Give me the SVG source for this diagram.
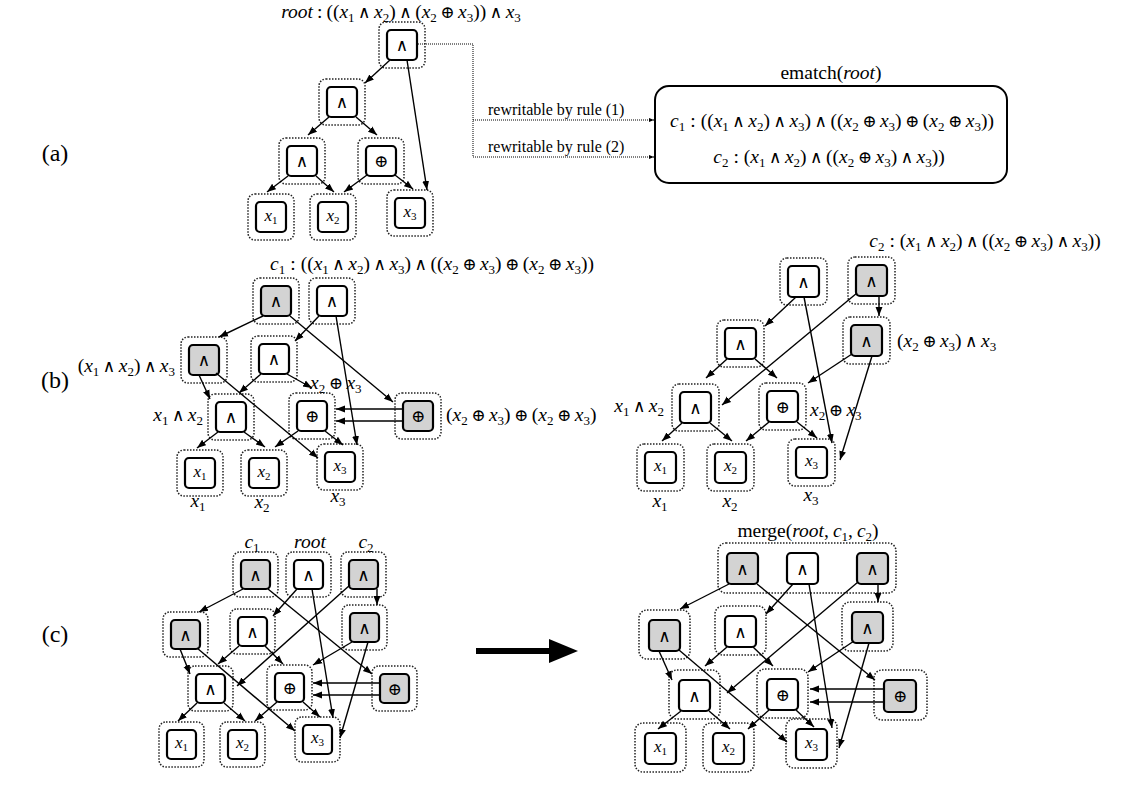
<svg xmlns="http://www.w3.org/2000/svg" width="1138" height="788" viewBox="0 0 1138 788">
<style>
.o{fill:none;stroke:#222;stroke-width:1.5;stroke-dasharray:1.5 1.5}
.b{fill:#fff;stroke:#000;stroke-width:2.2}
.gr{fill:#d3d3d3}
.n{font-family:"DejaVu Serif",serif;font-size:17px;text-anchor:middle}
.v{font-family:"Liberation Serif",serif;font-size:17px;font-style:italic;text-anchor:middle}
.ss{font-size:11px;font-style:normal}
.t{font-family:"Liberation Serif","DejaVu Serif",serif;font-size:19.5px}
.i{font-style:italic}
.s{font-size:13px;font-style:normal}
.op{font-family:"DejaVu Serif",serif;font-size:17px}
.pl{font-family:"Liberation Serif",serif;font-size:24px;text-anchor:middle}
.rw{font-family:"Liberation Serif",serif;font-size:16px}
.e{fill:none;stroke:#000;stroke-width:1.4;marker-end:url(#ah)}
.d{fill:none;stroke:#000;stroke-width:1;stroke-dasharray:1 1}
.da{marker-end:url(#sa)}
</style>
<defs>
<marker id="ah" viewBox="0 0 10 10" refX="10" refY="5" markerWidth="9" markerHeight="9" markerUnits="userSpaceOnUse" orient="auto"><path d="M0,1.2 L10,5 L0,8.8 z" fill="#000"/></marker>
<marker id="sa" viewBox="0 0 10 10" refX="10" refY="5" markerWidth="5" markerHeight="5" markerUnits="userSpaceOnUse" orient="auto"><path d="M0,1 L10,5 L0,9 z" fill="#000"/></marker>
</defs>

<g id="labels">
<text class="pl" x="55" y="161">(a)</text>
<text class="pl" x="55" y="388">(b)</text>
<text class="pl" x="55" y="642">(c)</text>
<text class="t" x="401" y="18" text-anchor="middle"><tspan class="i">root</tspan><tspan dx="4">:</tspan><tspan dx="4">((</tspan><tspan class="i">x</tspan><tspan class="s" dy="4">1</tspan><tspan class="op" dx="3.5" dy="-4">∧</tspan><tspan class="i" dx="3.5">x</tspan><tspan class="s" dy="4">2</tspan><tspan dy="-4">)</tspan><tspan class="op" dx="3.5">∧</tspan><tspan dx="3.5">(</tspan><tspan class="i">x</tspan><tspan class="s" dy="4">2</tspan><tspan class="op" dx="3.5" dy="-4">⊕</tspan><tspan class="i" dx="3.5">x</tspan><tspan class="s" dy="4">3</tspan><tspan dy="-4">))</tspan><tspan class="op" dx="3.5">∧</tspan><tspan class="i" dx="3.5">x</tspan><tspan class="s" dy="4">3</tspan></text>
<text class="t" x="831" y="79" text-anchor="middle" font-size="19">ematch(<tspan class="i">root</tspan>)</text>
<text class="rw" x="488" y="115">rewritable by rule (1)</text>
<text class="rw" x="488" y="152">rewritable by rule (2)</text>
<text class="t" x="832" y="127" text-anchor="middle"><tspan class="i">c</tspan><tspan class="s" dy="4">1</tspan><tspan dx="5" dy="-4">:</tspan><tspan dx="5">((</tspan><tspan class="i">x</tspan><tspan class="s" dy="4">1</tspan><tspan class="op" dx="3.5" dy="-4">∧</tspan><tspan class="i" dx="3.5">x</tspan><tspan class="s" dy="4">2</tspan><tspan dy="-4">)</tspan><tspan class="op" dx="3.5">∧</tspan><tspan class="i" dx="3.5">x</tspan><tspan class="s" dy="4">3</tspan><tspan dy="-4">)</tspan><tspan class="op" dx="3.5">∧</tspan><tspan dx="3.5">((</tspan><tspan class="i">x</tspan><tspan class="s" dy="4">2</tspan><tspan class="op" dx="3.5" dy="-4">⊕</tspan><tspan class="i" dx="3.5">x</tspan><tspan class="s" dy="4">3</tspan><tspan dy="-4">)</tspan><tspan class="op" dx="3.5">⊕</tspan><tspan dx="3.5">(</tspan><tspan class="i">x</tspan><tspan class="s" dy="4">2</tspan><tspan class="op" dx="3.5" dy="-4">⊕</tspan><tspan class="i" dx="3.5">x</tspan><tspan class="s" dy="4">3</tspan><tspan dy="-4">))</tspan></text>
<text class="t" x="829" y="163" text-anchor="middle"><tspan class="i">c</tspan><tspan class="s" dy="4">2</tspan><tspan dx="5" dy="-4">:</tspan><tspan dx="5">(</tspan><tspan class="i">x</tspan><tspan class="s" dy="4">1</tspan><tspan class="op" dx="3.5" dy="-4">∧</tspan><tspan class="i" dx="3.5">x</tspan><tspan class="s" dy="4">2</tspan><tspan dy="-4">)</tspan><tspan class="op" dx="3.5">∧</tspan><tspan dx="3.5">((</tspan><tspan class="i">x</tspan><tspan class="s" dy="4">2</tspan><tspan class="op" dx="3.5" dy="-4">⊕</tspan><tspan class="i" dx="3.5">x</tspan><tspan class="s" dy="4">3</tspan><tspan dy="-4">)</tspan><tspan class="op" dx="3.5">∧</tspan><tspan class="i" dx="3.5">x</tspan><tspan class="s" dy="4">3</tspan><tspan dy="-4">))</tspan></text>

<text class="t" x="432" y="270" text-anchor="middle"><tspan class="i">c</tspan><tspan class="s" dy="4">1</tspan><tspan dx="5" dy="-4">:</tspan><tspan dx="5">((</tspan><tspan class="i">x</tspan><tspan class="s" dy="4">1</tspan><tspan class="op" dx="3.5" dy="-4">∧</tspan><tspan class="i" dx="3.5">x</tspan><tspan class="s" dy="4">2</tspan><tspan dy="-4">)</tspan><tspan class="op" dx="3.5">∧</tspan><tspan class="i" dx="3.5">x</tspan><tspan class="s" dy="4">3</tspan><tspan dy="-4">)</tspan><tspan class="op" dx="3.5">∧</tspan><tspan dx="3.5">((</tspan><tspan class="i">x</tspan><tspan class="s" dy="4">2</tspan><tspan class="op" dx="3.5" dy="-4">⊕</tspan><tspan class="i" dx="3.5">x</tspan><tspan class="s" dy="4">3</tspan><tspan dy="-4">)</tspan><tspan class="op" dx="3.5">⊕</tspan><tspan dx="3.5">(</tspan><tspan class="i">x</tspan><tspan class="s" dy="4">2</tspan><tspan class="op" dx="3.5" dy="-4">⊕</tspan><tspan class="i" dx="3.5">x</tspan><tspan class="s" dy="4">3</tspan><tspan dy="-4">))</tspan></text>
<text class="t" x="175" y="372" text-anchor="end"><tspan>(</tspan><tspan class="i">x</tspan><tspan class="s" dy="4">1</tspan><tspan class="op" dx="3.5" dy="-4">∧</tspan><tspan class="i" dx="3.5">x</tspan><tspan class="s" dy="4">2</tspan><tspan dy="-4">)</tspan><tspan class="op" dx="3.5">∧</tspan><tspan class="i" dx="3.5">x</tspan><tspan class="s" dy="4">3</tspan></text>
<text class="t" x="203" y="421" text-anchor="end"><tspan class="i">x</tspan><tspan class="s" dy="4">1</tspan><tspan class="op" dx="3.5" dy="-4">∧</tspan><tspan class="i" dx="3.5">x</tspan><tspan class="s" dy="4">2</tspan></text>
<text class="t" x="310" y="389"><tspan class="i">x</tspan><tspan class="s" dy="4">2</tspan><tspan class="op" dx="3.5" dy="-4">⊕</tspan><tspan class="i" dx="3.5">x</tspan><tspan class="s" dy="4">3</tspan></text>
<text class="t" x="446" y="421"><tspan>(</tspan><tspan class="i">x</tspan><tspan class="s" dy="4">2</tspan><tspan class="op" dx="3.5" dy="-4">⊕</tspan><tspan class="i" dx="3.5">x</tspan><tspan class="s" dy="4">3</tspan><tspan dy="-4">)</tspan><tspan class="op" dx="3.5">⊕</tspan><tspan dx="3.5">(</tspan><tspan class="i">x</tspan><tspan class="s" dy="4">2</tspan><tspan class="op" dx="3.5" dy="-4">⊕</tspan><tspan class="i" dx="3.5">x</tspan><tspan class="s" dy="4">3</tspan><tspan dy="-4">)</tspan></text>
<text class="t" x="198" y="507" text-anchor="middle"><tspan class="i">x</tspan><tspan class="s" dy="4">1</tspan></text>
<text class="t" x="262" y="508" text-anchor="middle"><tspan class="i">x</tspan><tspan class="s" dy="4">2</tspan></text>
<text class="t" x="338" y="502" text-anchor="middle"><tspan class="i">x</tspan><tspan class="s" dy="4">3</tspan></text>

<text class="t" x="985" y="247" text-anchor="middle"><tspan class="i">c</tspan><tspan class="s" dy="4">2</tspan><tspan dx="5" dy="-4">:</tspan><tspan dx="5">(</tspan><tspan class="i">x</tspan><tspan class="s" dy="4">1</tspan><tspan class="op" dx="3.5" dy="-4">∧</tspan><tspan class="i" dx="3.5">x</tspan><tspan class="s" dy="4">2</tspan><tspan dy="-4">)</tspan><tspan class="op" dx="3.5">∧</tspan><tspan dx="3.5">((</tspan><tspan class="i">x</tspan><tspan class="s" dy="4">2</tspan><tspan class="op" dx="3.5" dy="-4">⊕</tspan><tspan class="i" dx="3.5">x</tspan><tspan class="s" dy="4">3</tspan><tspan dy="-4">)</tspan><tspan class="op" dx="3.5">∧</tspan><tspan class="i" dx="3.5">x</tspan><tspan class="s" dy="4">3</tspan><tspan dy="-4">))</tspan></text>
<text class="t" x="897" y="347"><tspan>(</tspan><tspan class="i">x</tspan><tspan class="s" dy="4">2</tspan><tspan class="op" dx="3.5" dy="-4">⊕</tspan><tspan class="i" dx="3.5">x</tspan><tspan class="s" dy="4">3</tspan><tspan dy="-4">)</tspan><tspan class="op" dx="3.5">∧</tspan><tspan class="i" dx="3.5">x</tspan><tspan class="s" dy="4">3</tspan></text>
<text class="t" x="664" y="412" text-anchor="end"><tspan class="i">x</tspan><tspan class="s" dy="4">1</tspan><tspan class="op" dx="3.5" dy="-4">∧</tspan><tspan class="i" dx="3.5">x</tspan><tspan class="s" dy="4">2</tspan></text>
<text class="t" x="810" y="416"><tspan class="i">x</tspan><tspan class="s" dy="4">2</tspan><tspan class="op" dx="3.5" dy="-4">⊕</tspan><tspan class="i" dx="3.5">x</tspan><tspan class="s" dy="4">3</tspan></text>
<text class="t" x="660" y="507" text-anchor="middle"><tspan class="i">x</tspan><tspan class="s" dy="4">1</tspan></text>
<text class="t" x="730" y="507" text-anchor="middle"><tspan class="i">x</tspan><tspan class="s" dy="4">2</tspan></text>
<text class="t" x="811" y="501" text-anchor="middle"><tspan class="i">x</tspan><tspan class="s" dy="4">3</tspan></text>

<text class="t" x="252" y="548" text-anchor="middle"><tspan class="i">c</tspan><tspan class="s" dy="4">1</tspan></text>
<text class="t" x="310" y="548" text-anchor="middle"><tspan class="i">root</tspan></text>
<text class="t" x="366" y="548" text-anchor="middle"><tspan class="i">c</tspan><tspan class="s" dy="4">2</tspan></text>
<text class="t" x="808" y="537" text-anchor="middle" font-size="22">merge(<tspan class="i">root</tspan>,<tspan dx="4" class="i">c</tspan><tspan class="s" dy="4">1</tspan><tspan dy="-4">,</tspan><tspan dx="4" class="i">c</tspan><tspan class="s" dy="4">2</tspan><tspan dy="-4">)</tspan></text>
</g>

<g id="a-root"><rect class="o" x="379" y="22" width="46" height="46" rx="7"/><rect class="b" x="387" y="30" width="30" height="30" rx="4"/><text class="n" x="402" y="51">∧</text></g>
<g id="a-and2"><rect class="o" x="319" y="79" width="46" height="46" rx="7"/><rect class="b" x="327" y="87" width="30" height="30" rx="4"/><text class="n" x="342" y="108">∧</text></g>
<g id="a-and3"><rect class="o" x="279" y="138" width="46" height="46" rx="7"/><rect class="b" x="287" y="146" width="30" height="30" rx="4"/><text class="n" x="302" y="167">∧</text></g>
<g id="a-xor"><rect class="o" x="358" y="138" width="46" height="46" rx="7"/><rect class="b" x="366" y="146" width="30" height="30" rx="4"/><text class="n" x="381" y="167">⊕</text></g>
<g id="a-x1"><rect class="o" x="248" y="194" width="46" height="46" rx="7"/><rect class="b" x="256" y="202" width="30" height="30" rx="4"/><text class="v" x="271" y="221">x<tspan class="ss" dy="3">1</tspan></text></g>
<g id="a-x2"><rect class="o" x="310" y="194" width="46" height="46" rx="7"/><rect class="b" x="318" y="202" width="30" height="30" rx="4"/><text class="v" x="333" y="221">x<tspan class="ss" dy="3">2</tspan></text></g>
<g id="a-x3"><rect class="o" x="387" y="190" width="46" height="46" rx="7"/><rect class="b" x="395" y="198" width="30" height="30" rx="4"/><text class="v" x="410" y="217">x<tspan class="ss" dy="3">3</tspan></text></g>
<g id="a-ematch"><rect x="655" y="86" width="352" height="97" rx="14" fill="none" stroke="#000" stroke-width="2"/></g>

<g id="b1-c1"><rect class="o" x="253" y="278" width="46" height="46" rx="7"/><rect class="b gr" x="261" y="286" width="30" height="30" rx="4"/><text class="n" x="276" y="307">∧</text></g>
<g id="b1-root"><rect class="o" x="309" y="278" width="46" height="46" rx="7"/><rect class="b" x="317" y="286" width="30" height="30" rx="4"/><text class="n" x="332" y="307">∧</text></g>
<g id="b1-and12x3"><rect class="o" x="181" y="337" width="46" height="46" rx="7"/><rect class="b gr" x="189" y="345" width="30" height="30" rx="4"/><text class="n" x="204" y="366">∧</text></g>
<g id="b1-and"><rect class="o" x="251" y="336" width="46" height="46" rx="7"/><rect class="b" x="259" y="344" width="30" height="30" rx="4"/><text class="n" x="274" y="365">∧</text></g>
<g id="b1-and12"><rect class="o" x="208" y="394" width="46" height="46" rx="7"/><rect class="b" x="216" y="402" width="30" height="30" rx="4"/><text class="n" x="231" y="423">∧</text></g>
<g id="b1-xor"><rect class="o" x="289" y="393" width="46" height="46" rx="7"/><rect class="b" x="297" y="401" width="30" height="30" rx="4"/><text class="n" x="312" y="422">⊕</text></g>
<g id="b1-xor2"><rect class="o" x="395" y="393" width="46" height="46" rx="7"/><rect class="b gr" x="403" y="401" width="30" height="30" rx="4"/><text class="n" x="418" y="422">⊕</text></g>
<g id="b1-x1"><rect class="o" x="177" y="450" width="46" height="46" rx="7"/><rect class="b" x="185" y="458" width="30" height="30" rx="4"/><text class="v" x="200" y="477">x<tspan class="ss" dy="3">1</tspan></text></g>
<g id="b1-x2"><rect class="o" x="241" y="450" width="46" height="46" rx="7"/><rect class="b" x="249" y="458" width="30" height="30" rx="4"/><text class="v" x="264" y="477">x<tspan class="ss" dy="3">2</tspan></text></g>
<g id="b1-x3"><rect class="o" x="317" y="444" width="46" height="46" rx="7"/><rect class="b" x="325" y="452" width="30" height="30" rx="4"/><text class="v" x="340" y="471">x<tspan class="ss" dy="3">3</tspan></text></g>

<g id="b2-root"><rect class="o" x="780" y="258" width="47" height="47" rx="7"/><rect class="b" x="788" y="266" width="31" height="31" rx="4"/><text class="n" x="803.5" y="288">∧</text></g>
<g id="b2-c2"><rect class="o" x="848" y="257" width="47" height="47" rx="7"/><rect class="b gr" x="856" y="265" width="31" height="31" rx="4"/><text class="n" x="871.5" y="287">∧</text></g>
<g id="b2-andx3"><rect class="o" x="843" y="317" width="47" height="47" rx="7"/><rect class="b gr" x="851" y="325" width="31" height="31" rx="4"/><text class="n" x="866.5" y="347">∧</text></g>
<g id="b2-and"><rect class="o" x="717" y="320" width="47" height="47" rx="7"/><rect class="b" x="725" y="328" width="31" height="31" rx="4"/><text class="n" x="740.5" y="350">∧</text></g>
<g id="b2-and12"><rect class="o" x="672" y="384" width="47" height="47" rx="7"/><rect class="b" x="680" y="392" width="31" height="31" rx="4"/><text class="n" x="695.5" y="414">∧</text></g>
<g id="b2-xor"><rect class="o" x="759" y="383" width="47" height="47" rx="7"/><rect class="b" x="767" y="391" width="31" height="31" rx="4"/><text class="n" x="782.5" y="413">⊕</text></g>
<g id="b2-x1"><rect class="o" x="637" y="444" width="47" height="47" rx="7"/><rect class="b" x="645" y="452" width="31" height="31" rx="4"/><text class="v" x="660.5" y="471">x<tspan class="ss" dy="3">1</tspan></text></g>
<g id="b2-x2"><rect class="o" x="707" y="444" width="47" height="47" rx="7"/><rect class="b" x="715" y="452" width="31" height="31" rx="4"/><text class="v" x="730.5" y="471">x<tspan class="ss" dy="3">2</tspan></text></g>
<g id="b2-x3"><rect class="o" x="788" y="439" width="47" height="47" rx="7"/><rect class="b" x="796" y="447" width="31" height="31" rx="4"/><text class="v" x="811.5" y="466">x<tspan class="ss" dy="3">3</tspan></text></g>

<g id="c1-c1"><rect class="o" x="233" y="552" width="45" height="45" rx="7"/><rect class="b gr" x="241" y="560" width="29" height="29" rx="4"/><text class="n" x="255.5" y="581">∧</text></g>
<g id="c1-root"><rect class="o" x="286" y="552" width="45" height="45" rx="7"/><rect class="b" x="294" y="560" width="29" height="29" rx="4"/><text class="n" x="308.5" y="581">∧</text></g>
<g id="c1-c2"><rect class="o" x="341" y="552" width="45" height="45" rx="7"/><rect class="b gr" x="349" y="560" width="29" height="29" rx="4"/><text class="n" x="363.5" y="581">∧</text></g>
<g id="c1-andl"><rect class="o" x="163" y="612" width="45" height="45" rx="7"/><rect class="b gr" x="171" y="620" width="29" height="29" rx="4"/><text class="n" x="185.5" y="641">∧</text></g>
<g id="c1-and"><rect class="o" x="230" y="609" width="45" height="45" rx="7"/><rect class="b" x="238" y="617" width="29" height="29" rx="4"/><text class="n" x="252.5" y="638">∧</text></g>
<g id="c1-andr"><rect class="o" x="342" y="605" width="45" height="45" rx="7"/><rect class="b gr" x="350" y="613" width="29" height="29" rx="4"/><text class="n" x="364.5" y="634">∧</text></g>
<g id="c1-and12"><rect class="o" x="188" y="666" width="45" height="45" rx="7"/><rect class="b" x="196" y="674" width="29" height="29" rx="4"/><text class="n" x="210.5" y="695">∧</text></g>
<g id="c1-xor"><rect class="o" x="267" y="665" width="45" height="45" rx="7"/><rect class="b" x="275" y="673" width="29" height="29" rx="4"/><text class="n" x="289.5" y="694">⊕</text></g>
<g id="c1-xor2"><rect class="o" x="372" y="666" width="45" height="45" rx="7"/><rect class="b gr" x="380" y="674" width="29" height="29" rx="4"/><text class="n" x="394.5" y="695">⊕</text></g>
<g id="c1-x1"><rect class="o" x="159" y="722" width="45" height="45" rx="7"/><rect class="b" x="167" y="730" width="29" height="29" rx="4"/><text class="v" x="181.5" y="748">x<tspan class="ss" dy="3">1</tspan></text></g>
<g id="c1-x2"><rect class="o" x="220" y="722" width="45" height="45" rx="7"/><rect class="b" x="228" y="730" width="29" height="29" rx="4"/><text class="v" x="242.5" y="748">x<tspan class="ss" dy="3">2</tspan></text></g>
<g id="c1-x3"><rect class="o" x="295" y="717" width="45" height="45" rx="7"/><rect class="b" x="303" y="725" width="29" height="29" rx="4"/><text class="v" x="317.5" y="743">x<tspan class="ss" dy="3">3</tspan></text></g>

<g id="c2-merged"><rect class="o" x="718" y="543" width="178" height="50" rx="8"/><rect class="b gr" x="727" y="553" width="31" height="31" rx="4"/><text class="n" x="742.5" y="575">∧</text><rect class="b" x="787" y="553" width="31" height="31" rx="4"/><text class="n" x="802.5" y="575">∧</text><rect class="b gr" x="857" y="553" width="31" height="31" rx="4"/><text class="n" x="872.5" y="575">∧</text></g>
<g id="c2-andl"><rect class="o" x="639" y="610" width="51" height="49" rx="8"/><rect class="b gr" x="649" y="620" width="31" height="31" rx="4"/><text class="n" x="664.5" y="642">∧</text></g>
<g id="c2-and"><rect class="o" x="715" y="606" width="51" height="49" rx="8"/><rect class="b" x="725" y="616" width="31" height="31" rx="4"/><text class="n" x="740.5" y="638">∧</text></g>
<g id="c2-andr"><rect class="o" x="842" y="602" width="51" height="49" rx="8"/><rect class="b gr" x="852" y="612" width="31" height="31" rx="4"/><text class="n" x="867.5" y="634">∧</text></g>
<g id="c2-and12"><rect class="o" x="669" y="670" width="51" height="49" rx="8"/><rect class="b" x="679" y="680" width="31" height="31" rx="4"/><text class="n" x="694.5" y="702">∧</text></g>
<g id="c2-xor"><rect class="o" x="757" y="669" width="51" height="49" rx="8"/><rect class="b" x="767" y="679" width="31" height="31" rx="4"/><text class="n" x="782.5" y="701">⊕</text></g>
<g id="c2-xor2"><rect class="o" x="874" y="670" width="53" height="50" rx="8"/><rect class="b gr" x="884" y="680" width="32" height="32" rx="4"/><text class="n" x="900" y="702">⊕</text></g>
<g id="c2-x1"><rect class="o" x="635" y="723" width="51" height="49" rx="8"/><rect class="b" x="645" y="733" width="31" height="31" rx="4"/><text class="v" x="660.5" y="752">x<tspan class="ss" dy="3">1</tspan></text></g>
<g id="c2-x2"><rect class="o" x="703" y="723" width="51" height="49" rx="8"/><rect class="b" x="713" y="733" width="31" height="31" rx="4"/><text class="v" x="728.5" y="752">x<tspan class="ss" dy="3">2</tspan></text></g>
<g id="c2-x3"><rect class="o" x="786" y="719" width="51" height="49" rx="8"/><rect class="b" x="796" y="729" width="31" height="31" rx="4"/><text class="v" x="811.5" y="748">x<tspan class="ss" dy="3">3</tspan></text></g>

<g id="connectors">
<path class="e" d="M390,60 L365,83"/>
<path class="e" d="M407,60 L427,190"/>
<path class="e" d="M329,117 L308,135"/>
<path class="e" d="M356,117 L377,135"/>
<path class="e" d="M288,176 L267,192"/>
<path class="e" d="M316,176 L334,192"/>
<path class="e" d="M367,175 L344,192"/>
<path class="e" d="M395,175 L413,189"/>
<path class="d da" d="M418,44 H473 V157 H654"/>
<path class="d da" d="M473,120 H654"/>

<path class="e" d="M263,316 L219,337"/>
<path class="e" d="M290,316 L393,402"/>
<path class="e" d="M319,316 L295,341"/>
<path class="e" d="M336,316 L357,445"/>
<path class="e" d="M199,375 L210,399"/>
<path class="e" d="M216,373 L318,458"/>
<path class="e" d="M261,374 L239,393"/>
<path class="e" d="M287,374 L312,388"/>
<path class="e" d="M218,432 L197,448"/>
<path class="e" d="M244,432 L265,447"/>
<path class="e" d="M298,431 L275,447"/>
<path class="e" d="M325,431 L343,445"/>
<path class="e" d="M403,409 L336,409"/>
<path class="e" d="M403,421 L336,421"/>

<path class="e" d="M796,297 L765,326"/>
<path class="e" d="M804,297 L832,443"/>
<path class="e" d="M857,293 L722,405"/>
<path class="e" d="M879,296 L879,316"/>
<path class="e" d="M852,354 L808,383"/>
<path class="e" d="M872,356 L840,460"/>
<path class="e" d="M727,359 L706,378"/>
<path class="e" d="M755,359 L777,378"/>
<path class="e" d="M682,423 L662,441"/>
<path class="e" d="M710,423 L732,441"/>
<path class="e" d="M769,422 L746,441"/>
<path class="e" d="M797,422 L817,438"/>

<path class="e" d="M243,589 L199,612"/>
<path class="e" d="M268,589 L372,674"/>
<path class="e" d="M297,589 L273,616"/>
<path class="e" d="M312,589 L333,718"/>
<path class="e" d="M350,585 L237,686"/>
<path class="e" d="M377,589 L377,605"/>
<path class="e" d="M352,642 L313,665"/>
<path class="e" d="M368,642 L340,738"/>
<path class="e" d="M180,649 L190,674"/>
<path class="e" d="M197,648 L295,731"/>
<path class="e" d="M239,646 L218,664"/>
<path class="e" d="M265,646 L283,664"/>
<path class="e" d="M197,703 L178,721"/>
<path class="e" d="M224,703 L245,721"/>
<path class="e" d="M277,702 L255,721"/>
<path class="e" d="M303,702 L320,717"/>
<path class="e" d="M380,683 L313,683"/>
<path class="e" d="M380,695 L313,695"/>

<path class="e" d="M729,584 L680,609"/>
<path class="e" d="M757,584 L875,680"/>
<path class="e" d="M793,584 L766,614"/>
<path class="e" d="M809,584 L832,728"/>
<path class="e" d="M858,582 L727,693"/>
<path class="e" d="M878,584 L878,602"/>
<path class="e" d="M854,641 L808,672"/>
<path class="e" d="M869,643 L839,748"/>
<path class="e" d="M659,651 L672,680"/>
<path class="e" d="M679,650 L787,742"/>
<path class="e" d="M727,647 L705,666"/>
<path class="e" d="M753,647 L773,666"/>
<path class="e" d="M681,711 L658,729"/>
<path class="e" d="M709,711 L730,729"/>
<path class="e" d="M769,710 L748,729"/>
<path class="e" d="M796,710 L814,727"/>
<path class="e" d="M884,689 L810,689"/>
<path class="e" d="M884,702 L810,702"/>

<path d="M476,651 H552" stroke="#000" stroke-width="6"/>
<path d="M549,639 L578,651 L549,663 z" fill="#000"/>
</g>
</svg>
